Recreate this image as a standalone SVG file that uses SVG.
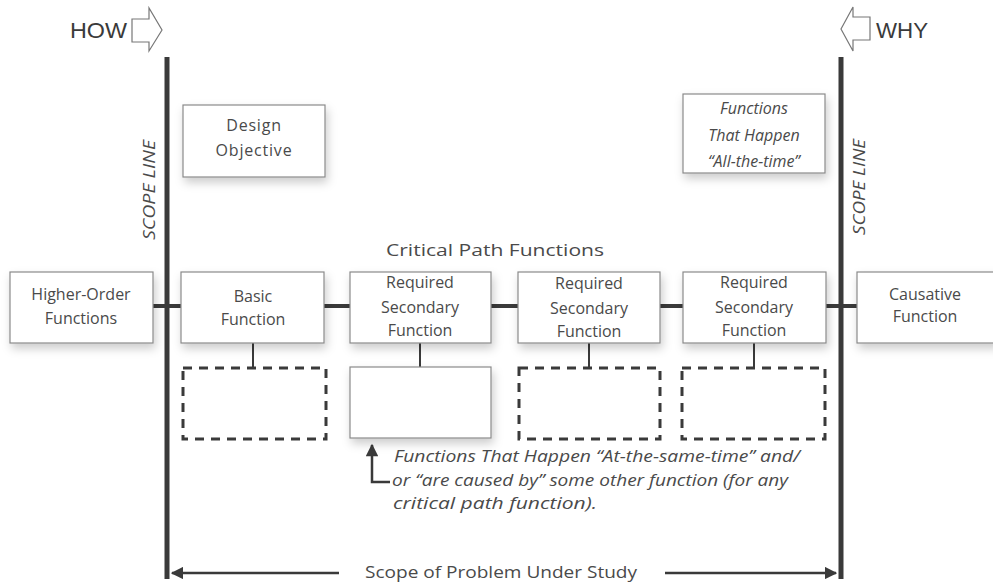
<svg xmlns="http://www.w3.org/2000/svg" width="993" height="587" viewBox="0 0 993 587">
<defs>
<filter id="sh" x="-15%" y="-15%" width="135%" height="145%">
<feDropShadow dx="2" dy="5" stdDeviation="5" flood-color="#000" flood-opacity="0.2"/>
</filter>
<marker id="ah2" viewBox="0 0 10 10" refX="9" refY="5" markerWidth="5" markerHeight="5" orient="auto" markerUnits="strokeWidth">
<path d="M0,0 L10,5 L0,10 z" fill="#3a3a3a"/>
</marker>
<marker id="ah3" viewBox="0 0 10 10" refX="9" refY="5" markerWidth="6" markerHeight="5" orient="auto" markerUnits="strokeWidth">
<path d="M0,0 L10,5 L0,10 z" fill="#3a3a3a"/>
</marker>
</defs>
<style>
.box{fill:#fff;stroke:#8a8a8a;stroke-width:1.2;filter:url(#sh)}
.dash{fill:none;stroke:#3a3a3a;stroke-width:3;stroke-dasharray:9,7}
.t{font-family:"Open Sans","DejaVu Sans",sans-serif;font-size:16px;fill:#4a4a4a;text-anchor:middle}
.it{font-style:italic}
.hdr{font-family:"Liberation Sans",Arial,sans-serif;font-size:22px;fill:#3a3a3a}
.scope{stroke:#3a3a3a;stroke-width:5;fill:none}
.conn{stroke:#3a3a3a;stroke-width:4;fill:none}
.stem{stroke:#3a3a3a;stroke-width:2;fill:none}
.hollow{fill:#fff;stroke:#777;stroke-width:1.2}
.note{font-family:"Open Sans","DejaVu Sans",sans-serif;font-size:16px;fill:#4a4a4a;font-style:italic}
</style>
<rect width="993" height="587" fill="#fff"/>

<g id="how">
<text class="hdr" x="70" y="38" textLength="57" lengthAdjust="spacingAndGlyphs">HOW</text>
<path class="hollow" d="M132,19 L149,19 L149,8 L162,30 L149,51 L149,42 L132,42 Z"/>
</g>
<g id="why">
<path class="hollow" d="M870,17 L853,17 L853,7 L841,29 L853,51 L853,40 L870,40 Z"/>
<text class="hdr" x="876" y="38" textLength="52" lengthAdjust="spacingAndGlyphs">WHY</text>
</g>

<g id="connectors">
<line class="scope" x1="167" y1="57" x2="167" y2="579"/>
<line class="scope" x1="841" y1="57" x2="841" y2="579"/>
<line class="conn" x1="153" y1="306" x2="181" y2="306"/>
<line class="conn" x1="324" y1="306" x2="350" y2="306"/>
<line class="conn" x1="491" y1="306" x2="518" y2="306"/>
<line class="conn" x1="660" y1="306" x2="683" y2="306"/>
<line class="conn" x1="826" y1="306" x2="857" y2="306"/>
<line class="stem" x1="253" y1="343" x2="253" y2="368"/>
<line class="stem" x1="420" y1="343" x2="420" y2="367"/>
<line class="stem" x1="589" y1="343" x2="589" y2="368"/>
<line class="stem" x1="754" y1="343" x2="754" y2="368"/>
<path d="M390,482 L372,482 L372,445" stroke="#3a3a3a" stroke-width="2.5" fill="none" marker-end="url(#ah3)"/>
<line x1="339" y1="573" x2="172" y2="573" stroke="#3a3a3a" stroke-width="2.5" marker-end="url(#ah2)"/>
<line x1="665" y1="573" x2="836" y2="573" stroke="#3a3a3a" stroke-width="2.5" marker-end="url(#ah2)"/>
</g>

<g id="scope-labels">
<text class="t it" transform="translate(155,190) rotate(-90)" font-size="14" textLength="100" lengthAdjust="spacingAndGlyphs">SCOPE LINE</text>
<text class="t it" transform="translate(865,187) rotate(-90)" font-size="14" textLength="96" lengthAdjust="spacingAndGlyphs">SCOPE LINE</text>
</g>

<g id="design-objective">
<rect class="box" x="183" y="105" width="142" height="72"/>
<text class="t" x="254" y="131" letter-spacing="0.8">Design</text>
<text class="t" x="254" y="156" letter-spacing="0.8">Objective</text>
</g>

<g id="all-the-time">
<rect class="box" x="683" y="94" width="142" height="79"/>
<text class="t it" x="754" y="114" font-size="17">Functions</text>
<text class="t it" x="754" y="141" font-size="17">That Happen</text>
<text class="t it" x="754" y="167" font-size="17">“All-the-time”</text>
</g>

<g id="critical-path-label">
<text class="t" x="495" y="256" font-size="17" textLength="218" lengthAdjust="spacingAndGlyphs">Critical Path Functions</text>
</g>

<g id="higher-order">
<rect class="box" x="10" y="272" width="143" height="71"/>
<text class="t" x="81" y="300">Higher-Order</text>
<text class="t" x="81" y="324">Functions</text>
</g>

<g id="basic">
<rect class="box" x="181" y="272" width="143" height="71"/>
<text class="t" x="253" y="302">Basic</text>
<text class="t" x="253" y="325">Function</text>
</g>

<g id="req1">
<rect class="box" x="350" y="272" width="141" height="71"/>
<text class="t" x="420" y="288">Required</text>
<text class="t" x="420" y="313">Secondary</text>
<text class="t" x="420" y="336">Function</text>
</g>

<g id="req2">
<rect class="box" x="518" y="272" width="142" height="71"/>
<text class="t" x="589" y="289">Required</text>
<text class="t" x="589" y="314">Secondary</text>
<text class="t" x="589" y="337">Function</text>
</g>

<g id="req3">
<rect class="box" x="683" y="272" width="143" height="71"/>
<text class="t" x="754" y="288">Required</text>
<text class="t" x="754" y="313">Secondary</text>
<text class="t" x="754" y="336">Function</text>
</g>

<g id="causative">
<rect class="box" x="857" y="272" width="140" height="71"/>
<text class="t" x="925" y="300">Causative</text>
<text class="t" x="925" y="322">Function</text>
</g>

<g id="dashed1"><rect class="dash" x="183" y="368" width="143" height="71"/></g>
<g id="same-time-box"><rect class="box" x="350" y="367" width="141" height="71"/></g>
<g id="dashed2"><rect class="dash" x="519" y="368" width="141" height="71"/></g>
<g id="dashed3"><rect class="dash" x="682" y="368" width="143" height="71"/></g>

<g id="note">
<text class="note" x="394" y="462" textLength="406" lengthAdjust="spacingAndGlyphs">Functions That Happen “At-the-same-time” and/</text>
<text class="note" x="392" y="486" textLength="396" lengthAdjust="spacingAndGlyphs">or “are caused by” some other function (for any</text>
<text class="note" x="393" y="509" textLength="204" lengthAdjust="spacingAndGlyphs">critical path function).</text>
</g>

<g id="scope-label">
<text class="t" x="501" y="578" font-size="17" textLength="272" lengthAdjust="spacingAndGlyphs">Scope of Problem Under Study</text>
</g>
</svg>
